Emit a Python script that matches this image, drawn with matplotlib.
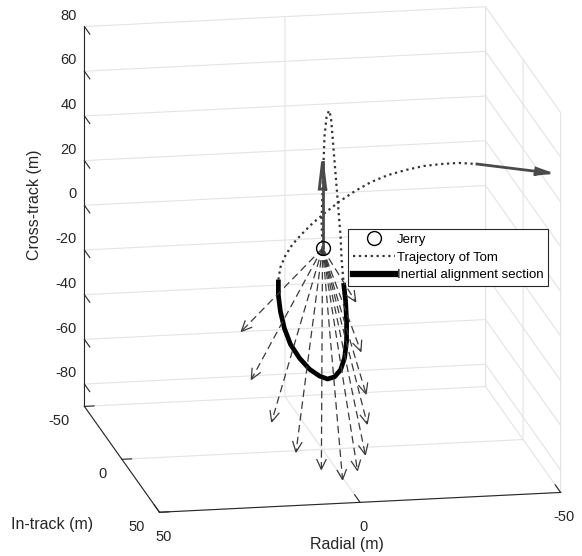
import numpy as np
import matplotlib
matplotlib.use("Agg")
import matplotlib.pyplot as plt
from matplotlib.lines import Line2D

plt.rcParams['font.family'] = ['Liberation Sans', 'DejaVu Sans']
plt.rcParams['axes.unicode_minus'] = False

# ---------------- data (m) ----------------
jerry = [0.0, 0.0, 0.0]
jerry_vec = [0.0, 0.0, 38.8]

traj1_x = [0.0, 0.25, 0.0, -0.25, -0.5, -1.0, -1.6, -2.1, -2.5, -3.0, -3.5, -4.0, -4.5, -4.75, -5.25]
traj1_y = [0.0] * 15
traj1_z = [0.0, 12.1, 25.4, 38.8, 50.0, 58.6, 61.5, 58.6, 49.8, 38.6, 27.4, 16.2, 5.0, -5.3, -16.0]

align_x = [-5.25, -5.75, -6.0, -6.0, -5.5, -4.5, -3.0, -1.25, 0.75, 3.25, 5.75, 8.0, 9.5, 10.5, 11.0, 11.0]
align_y = [0.0] * 16
align_z = [-16.0, -24.1, -33.1, -42.0, -49.5, -54.8, -57.8, -58.6, -57.1, -53.8, -48.6, -42.2, -35.0, -27.3, -20.1, -13.0]

traj2_x = [11.0, 10.5, 9.25, 7.5, 5.25, 2.5, -0.75, -4.25, -8.0, -12.0, -16.25, -20.75, -25.25, -29.75, -34.0, -38.5]
traj2_y = [0.0] * 16
traj2_z = [-13.0, -7.6, -2.4, 2.4, 6.7, 11.4, 16.0, 20.6, 24.8, 28.5, 31.3, 33.2, 34.6, 35.1, 35.2, 34.3]

tom_end = [-38.5, 0.0, 34.3]
tom_vec = [-11.4, 35.0, 11.6]

los_x = [20.25, 17.75, 14.55, 10.35, 5.9, 1.55, -3.1, -6.0, -7.4, -8.05, -7.7, -7.35]
los_y = [0.0, 0.0, 10.0, 20.0, 30.0, 35.0, 30.0, 25.0, 20.0, 15.0, 10.0, 5.0]
los_z = [-35.4, -57.1, -71.6, -80.8, -84.2, -86.8, -85.5, -81.1, -69.8, -58.8, -42.1, -22.2]

x_ticks = [-50, 0, 50]
y_ticks = [-50, 0, 50]
z_ticks = [-80, -60, -40, -20, 0, 20, 40, 60, 80]
x_lim = (-50, 50)
y_lim = (-50, 50)
z_lim = (-90, 80)

ELEV, AZIM = 15.3, 79.4
ASPECT = np.array([1.0, 1.0, 0.965])

# ---------------- figure ----------------
fig = plt.figure(figsize=(5.82, 5.56), dpi=100)
ax = fig.add_axes([24 / 582, 11 / 556, 1, 1], projection='3d')
ax.set_proj_type('ortho')
ax.view_init(elev=ELEV, azim=AZIM)
ax.set_box_aspect(tuple(ASPECT), zoom=1.22)

ax.set_xlim(*x_lim)
ax.set_ylim(*y_lim)
ax.set_zlim(*z_lim)
ax.set_xticks(x_ticks)
ax.set_yticks(y_ticks)
ax.set_zticks(z_ticks)
ax.set_xticklabels([str(t) for t in x_ticks], ha='center', va='center')
ax.set_yticklabels([str(t) for t in y_ticks], ha='right', va='center')
ax.set_zticklabels([str(t) for t in z_ticks], ha='right', va='center')

txt = '#262626'
for axis in (ax.xaxis, ax.yaxis, ax.zaxis):
    axis.set_pane_color((1, 1, 1, 0))
    axis.pane.set_edgecolor('#dedede')
    axis.line.set_color(txt)
    axis.line.set_linewidth(0.8)
    axis._axinfo['grid'].update(color='#e3e3e3', linewidth=0.8)
    axis._axinfo['tick'].update(inward_factor=0.0, outward_factor=0.3)
ax.xaxis._axinfo['tick'].update(outward_factor=0.9)
# cross-track ticks point along the in-track direction, away from the box
ax.zaxis._axinfo['tick'].update(outward_factor=-0.9)
ax.zaxis._get_tickdir = lambda position: 1
ax.zaxis._axmask = lambda: [False, True, False]

ax.tick_params(labelsize=10.5, colors=txt)
ax.tick_params(axis='x', pad=2.6)
ax.tick_params(axis='y', pad=-0.3)
ax.tick_params(axis='z', pad=13.3)

fig.text(35 / 582, 1 - 205 / 556, 'Cross-track (m)', rotation=90, fontsize=11.5, color=txt,
         ha='center', va='center')
fig.text(52 / 582, 1 - 525 / 556, 'In-track (m)', fontsize=11.5, color=txt,
         ha='center', va='center')
fig.text(347 / 582, 1 - 545 / 556, 'Radial (m)', fontsize=11.5, color=txt,
         ha='center', va='center')

rng = np.array([x_lim[1] - x_lim[0], y_lim[1] - y_lim[0], z_lim[1] - z_lim[0]], float)
eye = np.array([np.cos(np.radians(ELEV)) * np.cos(np.radians(AZIM)),
                np.cos(np.radians(ELEV)) * np.sin(np.radians(AZIM)),
                np.sin(np.radians(ELEV))])
BOX_PX = 400.0


def arrow3d(start, vec, head_px, half_px, color, lw, ls='-', head_lw=None, closed=False):
    s = np.asarray(start, float)
    v = np.asarray(vec, float)
    tip = s + v
    n = v / rng * ASPECT
    u = n / np.linalg.norm(n)
    p = np.cross(u, eye)
    p /= np.linalg.norm(p)
    L = head_px / BOX_PX
    W = half_px / BOX_PX
    w1 = tip + (-L * u + W * p) / ASPECT * rng
    w2 = tip + (-L * u - W * p) / ASPECT * rng
    ax.plot([s[0], tip[0]], [s[1], tip[1]], [s[2], tip[2]], color=color, lw=lw, ls=ls)
    pts = [w1, tip, w2, w1] if closed else [w1, tip, w2]
    pts = np.array(pts)
    ax.plot(pts[:, 0], pts[:, 1], pts[:, 2], color=color, lw=head_lw or lw, ls='-',
            solid_joinstyle='miter')


dark = '#333333'
ax.plot(traj1_x, traj1_y, traj1_z, linestyle=':', color=dark, lw=1.6)
ax.plot(traj2_x, traj2_y, traj2_z, linestyle=':', color=dark, lw=1.6)
ax.plot(align_x, align_y, align_z, '-', color='black', lw=3.4, solid_capstyle='butt')

for ex, ey, ez in zip(los_x, los_y, los_z):
    arrow3d(jerry, [ex, ey, ez], 10, 4.5, '#3a3a3a', 0.9, ls=(0, (6, 3.5)))

arrow3d(jerry, jerry_vec, 28, 3.2, '#4a4a4a', 2.0, closed=True, head_lw=2.0)
arrow3d(tom_end, tom_vec, 28, 3.0, '#4a4a4a', 2.0, closed=True, head_lw=2.0)

ax.plot([jerry[0]], [jerry[1]], [jerry[2]], 'o', mfc='none', mec='black', ms=10, mew=1.0)

h_jerry = Line2D([], [], marker='o', mfc='none', mec='black', ms=10, mew=1.0, ls='none')
h_traj = Line2D([], [], linestyle=':', color=dark, lw=1.6)
h_al = Line2D([], [], color='black', lw=4.5)
leg = ax.legend([h_jerry, h_traj, h_al], ['Jerry', 'Trajectory of Tom', 'Inertial alignment section'],
                loc='upper left', bbox_to_anchor=(348 / 582, 1 - 229 / 556),
                bbox_transform=fig.transFigure, fontsize=9.5, frameon=True, fancybox=False,
                edgecolor=txt, framealpha=1, borderpad=0.35, labelspacing=0.42,
                handlelength=3.2, handletextpad=0.15, borderaxespad=0)
leg.get_frame().set_linewidth(0.8)

fig.savefig('out.png', dpi=100)
